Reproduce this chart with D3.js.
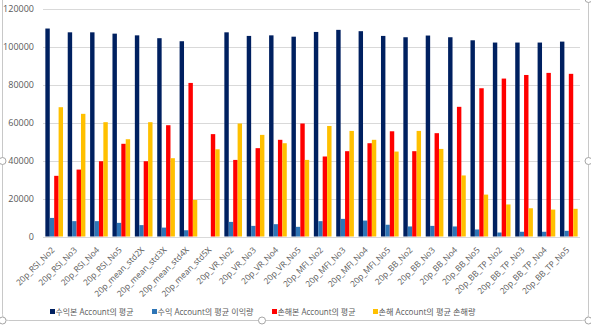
<!DOCTYPE html>
<html><head><meta charset="utf-8">
<script src="https://cdn.jsdelivr.net/npm/d3@7"></script>
<style>
html,body{margin:0;padding:0;background:#fff;}
svg{display:block;}
text{font-family:"Open Sans","Noto Sans CJK KR",sans-serif;}
</style></head>
<body>
<svg id="chart" width="591" height="325"></svg>
<script>
const categories = ["20p_RSI_No2","20p_RSI_No3","20p_RSI_No4","20p_RSI_No5","20p_mean_std2X","20p_mean_std3X","20p_mean_std4X","20p_mean_std5X","20p_VR_No2","20p_VR_No3","20p_VR_No4","20p_VR_No5","20p_MFI_No2","20p_MFI_No3","20p_MFI_No4","20p_MFI_No5","20p_BB_No2","20p_BB_No3","20p_BB_No4","20p_BB_No5","20p_BB_TP_No2","20p_BB_TP_No3","20p_BB_TP_No4","20p_BB_TP_No5"];
const seriesNames = ["수익본 Account의 평균","수익 Account의 평균 이익량","손해본 Account의 평균","손해 Account의 평균 손해량"];
const profitCount = [109700,107700,107700,107000,106100,104600,103000,0,107700,105800,106100,105400,107900,109000,108300,105800,105100,106000,105100,103500,102300,102300,102300,102800];
const profitAmount = [9800,8100,8100,7200,6000,4700,3300,0,7700,5600,6500,5100,8100,9300,8400,6200,5300,5600,5300,3700,2100,2500,2500,3000];
const lossCount = [32000,35300,39700,48900,39700,58700,81000,54000,40400,46600,51000,59600,42200,45000,49200,55500,45000,54500,68400,78200,83300,85200,86300,85800];
const lossAmount = [68200,64700,60300,51300,60300,41300,19300,46000,59600,53600,49200,40400,58300,55700,51000,44800,55700,46200,32200,22100,16900,14900,14200,14600];
const yTicks = [0,20000,40000,60000,80000,100000,120000];
const colors = ["#002060","#2E75B6","#FF0000","#FFC000"];

const series = [profitCount, profitAmount, lossCount, lossAmount];
const svg = d3.select("#chart");

// frame
svg.append("rect").attr("x",2.5).attr("y",-12).attr("width",586).attr("height",332.5)
  .attr("rx",6).attr("fill","#fff").attr("stroke","#c8c8c8").attr("stroke-width",1);

const mLeft = 43, mRight = 580, mTop = 9, mBottom = 236.5;
const x0 = d3.scaleBand().domain(categories).range([mLeft,mRight]).paddingInner(0.21).paddingOuter(0.105);
const x1 = d3.scaleBand().domain(d3.range(4)).range([0,x0.bandwidth()]);
const y = d3.scaleLinear().domain([0,120000]).range([mBottom,mTop]);

// gridlines
svg.append("g").selectAll("line").data(yTicks).join("line")
  .attr("x1",mLeft).attr("x2",mRight)
  .attr("y1",d=>Math.round(y(d))+0.5).attr("y2",d=>Math.round(y(d))+0.5)
  .attr("stroke","#d9d9d9").attr("stroke-width",1);

// y axis labels
const yAxis = d3.axisLeft(y).tickValues(yTicks).tickSize(0).tickPadding(0).tickFormat(d3.format("d"));
const gy = svg.append("g").attr("transform",`translate(34,0)`).call(yAxis);
gy.select(".domain").remove();
gy.selectAll("text").attr("fill","#595959").style("font-size","9px");

// bars
const groups = svg.append("g").selectAll("g").data(categories).join("g")
  .attr("transform",d=>`translate(${x0(d)},0)`);
groups.selectAll("rect").data((d,i)=>series.map((s,k)=>({k,v:s[i]}))).join("rect")
  .attr("x",d=>x1(d.k)).attr("width",x1.bandwidth())
  .attr("y",d=>y(d.v)).attr("height",d=>mBottom-y(d.v))
  .attr("fill",d=>colors[d.k]);

// x axis labels
const xAxis = d3.axisBottom(x0).tickSize(0).tickPadding(0);
const gx = svg.append("g").attr("transform",`translate(0,${mBottom})`).call(xAxis);
gx.select(".domain").remove();
gx.selectAll("text").attr("fill","#595959").style("font-size","8.4px")
  .attr("text-anchor","end").attr("dy",0).attr("y",0)
  .attr("transform","translate(1,14) rotate(-45)");

// legend
const legendX = [50,152,272,373];
const legendW = [78,96,78,97];
const lg = svg.append("g").selectAll("g").data(seriesNames).join("g")
  .attr("transform",(d,i)=>`translate(${legendX[i]},312)`);
lg.append("rect").attr("x",0).attr("y",-3).attr("width",5).attr("height",5).attr("fill",(d,i)=>colors[i]);
lg.append("text").attr("x",5.5).attr("y",0).attr("dy","0.35em").attr("fill","#595959")
  .style("font-size","8.5px")
  .attr("textLength",(d,i)=>legendW[i]).attr("lengthAdjust","spacingAndGlyphs")
  .text(d=>d);

// selection handles
const handles = [[2.5,161],[588.5,161],[262,320.5],[2.5,320.5],[588.5,320.5],[588.5,-1]];
svg.append("g").selectAll("circle").data(handles).join("circle")
  .attr("cx",d=>d[0]).attr("cy",d=>d[1]).attr("r",3.5)
  .attr("fill","#fff").attr("stroke","#a6a6a6");
</script>
</body></html>
